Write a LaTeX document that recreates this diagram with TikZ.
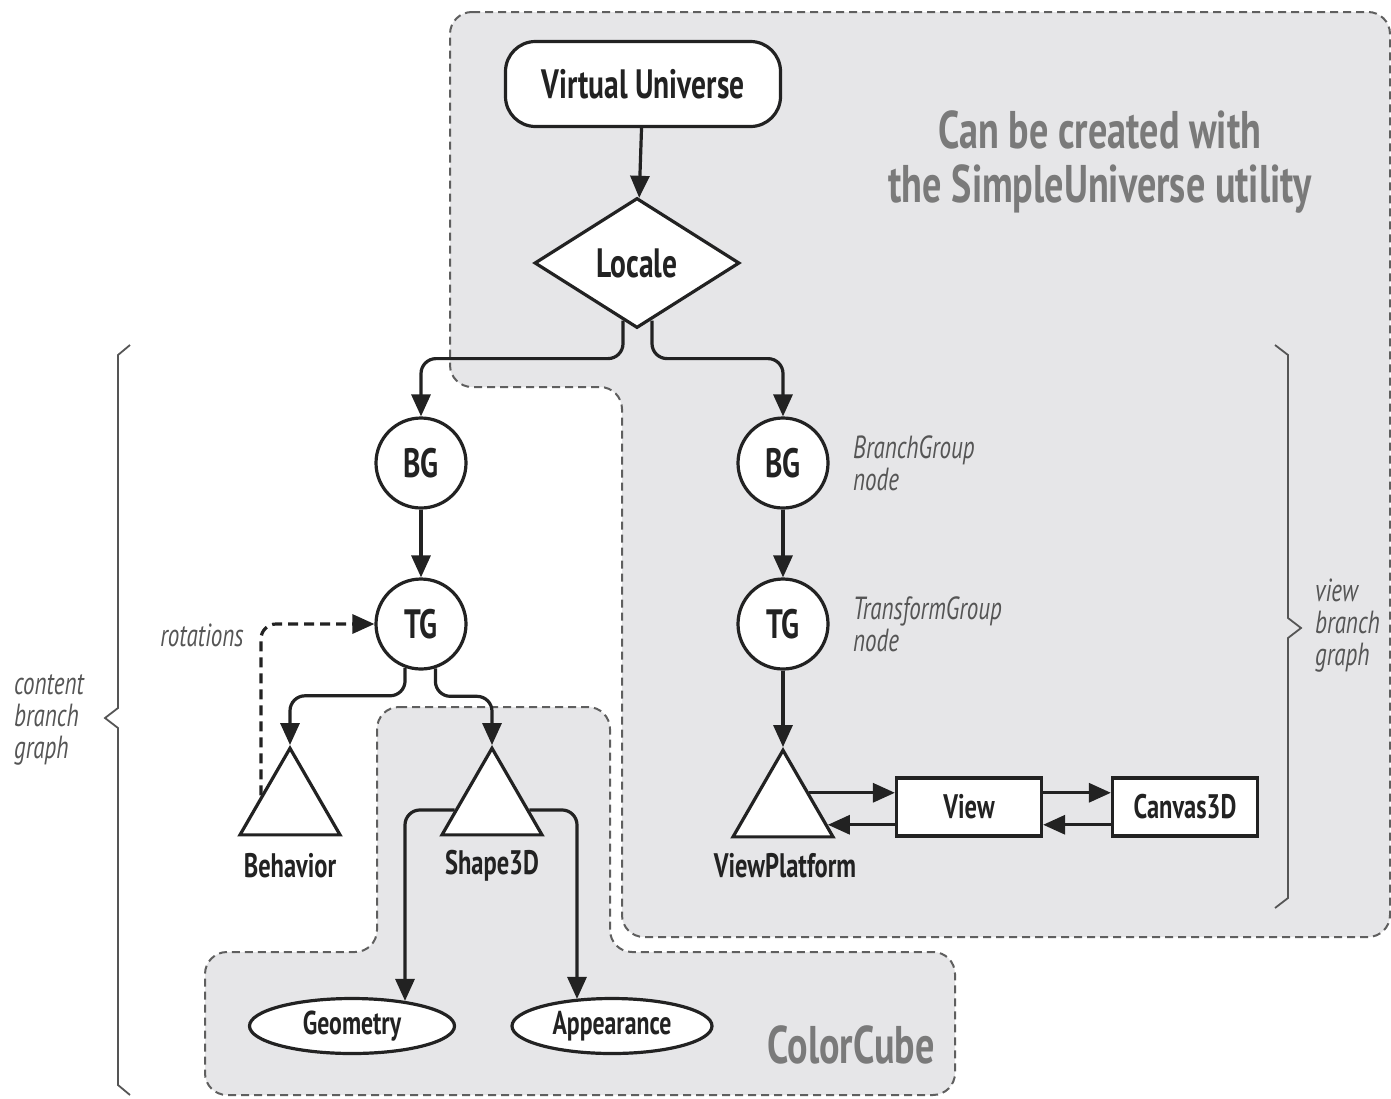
\documentclass[tikz,border=0pt]{standalone}
\usepackage{fontspec}
\setmainfont{PT Sans}[FakeStretch=0.72]
\usetikzlibrary{shapes.geometric,arrows.meta,calc}
\definecolor{regfill}{RGB}{230,230,232}
\definecolor{ink}{RGB}{34,34,34}
\definecolor{soft}{RGB}{122,122,122}
\definecolor{lbl}{RGB}{85,85,85}
\definecolor{dashc}{RGB}{95,95,95}
\begin{document}
\begin{tikzpicture}[x=1pt,y=-1pt,
  region/.style={fill=regfill,draw=dashc,line width=2pt,dash pattern=on 8pt off 5pt,rounded corners=22pt},
  box/.style={draw=ink,line width=3.2pt,fill=white,text=ink,font=\fontsize{41}{44}\selectfont\bfseries},
  circ/.style={circle,box,minimum size=90pt,inner sep=0pt},
  tri/.style={regular polygon,regular polygon sides=3,draw=ink,line width=3.2pt,fill=white,minimum size=115.5pt,inner sep=0pt},
  rbox/.style={rectangle,box,font=\fontsize{34}{36}\selectfont\bfseries,minimum width=145pt,minimum height=58pt,inner sep=0pt},
  ell/.style={ellipse,box,font=\fontsize{33}{34}\selectfont\bfseries,minimum width=205pt,minimum height=55pt,inner sep=0pt},
  arr/.style={draw=ink,line width=3.2pt,-{Triangle[length=22pt,width=19pt]}},
  dasharr/.style={arr,dash pattern=on 10pt off 6pt},
  lab/.style={text=ink,font=\fontsize{34}{36}\selectfont\bfseries},
  ital/.style={text=lbl,font=\fontsize{32}{32}\selectfont\itshape,align=left,inner sep=0pt},
  big/.style={text=soft,font=\fontsize{53}{54}\selectfont\bfseries,align=center},
  bracestyle/.style={draw=lbl,line width=1.8pt}
]
\useasboundingbox (0,0) rectangle (1391,1098);
\fill[white] (0,0) rectangle (1391,1098);

% shaded regions
\path[region] (450,12) -- (1390,12) -- (1390,937) -- (622,937) -- (622,387) -- (450,387) -- cycle;
\path[region] (377,707) -- (610,707) -- (610,952) -- (955,952) -- (955,1095) -- (205,1095) -- (205,952) -- (377,952) -- cycle;

% region labels
\node[big] (cbc) at (1100,162) {Can be created with\\the SimpleUniverse utility};
\node[big] (cc) at (851,1045) {ColorCube};

% nodes
\node[box,rectangle,rounded corners=30pt,minimum width=275pt,minimum height=85pt,inner sep=0pt] (vu) at (643,84) {Virtual Universe};
\node[box,diamond,aspect=1.58,minimum width=205pt,minimum height=130pt,inner sep=0pt] (loc) at (637,263) {Locale};
\node[circ] (bgL) at (421,463) {BG};
\node[circ] (tgL) at (421,624) {TG};
\node[circ] (bgR) at (783,463) {BG};
\node[circ] (tgR) at (783,624) {TG};
\node[tri] (beh) at (290,806) {};
\node[tri] (s3) at (492,806) {};
\node[tri] (vp) at (783,808) {};
\node[lab] (behL) at (290,866) {Behavior};
\node[lab] (s3L) at (492,866) {Shape3D};
\node[lab] (vpL) at (785,866) {ViewPlatform};
\node[rbox] (view) at (969,807) {View};
\node[rbox] (cv) at (1185,807) {Canvas3D};
\node[ell] (geo) at (352,1026) {Geometry};
\node[ell,minimum width=200pt] (app) at (612,1026) {Appearance};

% labels
\node[ital,anchor=west] (bgN) at (853,463) {BranchGroup\\node};
\node[ital,anchor=west] (tgN) at (853,624) {TransformGroup\\node};
\node[ital] (rot) at (202,635) {rotations};
\node[ital,anchor=west] (cbg) at (14,720) {content\\branch\\graph};
\node[ital,anchor=west] (vbg) at (1315,626) {view\\branch\\graph};

% connectors
\draw[arr] (vu) -- (loc);
\draw[arr,rounded corners=15pt] ($(loc.south)+(-14,-9)$) -- ++(0,38) -| (bgL.north);
\draw[arr,rounded corners=15pt] ($(loc.south)+(15,-9)$) -- ++(0,38) -| (bgR.north);
\draw[arr] (bgL) -- (tgL);
\draw[arr] (bgR) -- (tgR);
\draw[arr] (tgR) -- (vp.corner 1);
\draw[arr,rounded corners=15pt] (tgL.-110) -- ++(0,28) -| (beh.corner 1);
\draw[arr,rounded corners=15pt] (tgL.-72) -- ++(0,28) -| (s3.corner 1);
\draw[dasharr,rounded corners=15pt] ($(beh.corner 2)!0.45!(beh.corner 1)$) |- (tgL.west);
\draw[arr,rounded corners=15pt] ($(s3.corner 2)!0.29!(s3.corner 1)$) -| ($(geo.north)+(53,4)$);
\draw[arr,rounded corners=15pt] ($(s3.corner 3)!0.29!(s3.corner 1)$) -| ($(app.north)+(-35,2)$);
\coordinate (a1) at ($(vp.corner 1)!0.5!(vp.corner 3)$);
\coordinate (a2) at ($(vp.corner 1)!0.85!(vp.corner 3)$);
\draw[arr] (a1) -- (a1 -| view.west);
\draw[arr] (a2 -| view.west) -- (a2);
\draw[arr] (a1 -| view.east) -- (a1 -| cv.west);
\draw[arr] (a2 -| cv.west) -- (a2 -| view.east);

% braces
\draw[bracestyle] (130,345) -- (118,355) -- (118,708) -- (105,718) -- (118,728) -- (118,1085) -- (130,1095);
\draw[bracestyle] (1275,345) -- (1288,355) -- (1288,618) -- (1301,628) -- (1288,638) -- (1288,898) -- (1275,908);
\end{tikzpicture}
\end{document}
